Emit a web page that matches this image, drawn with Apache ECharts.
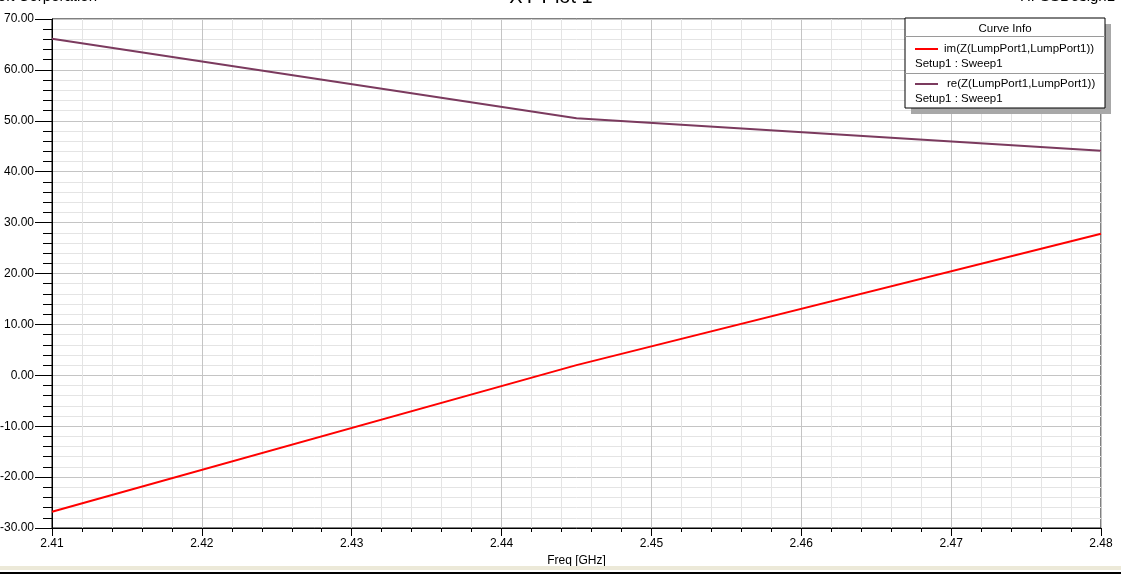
<!DOCTYPE html>
<html>
<head>
<meta charset="utf-8">
<script src="https://cdn.jsdelivr.net/npm/echarts@6/dist/echarts.min.js"></script>
<style>
html,body{margin:0;padding:0;background:#fff;}
#c{width:1121px;height:575px;}
</style>
</head>
<body>
<div id="c"></div>
<script>
const freq = [2.41, 2.445, 2.48];
const imZ = [-26.8, 2.0, 27.8];
const reZ = [66.1, 50.5, 44.1];
const seriesNames = ['im(Z(LumpPort1,LumpPort1))', 're(Z(LumpPort1,LumpPort1))'];
const sweepLabel = 'Setup1 : Sweep1';
const colors = ['#ff0000', '#7b3a5e'];

const FONT = '"Liberation Sans", Arial, sans-serif';
const chart = echarts.init(document.getElementById('c'), null, {renderer: 'canvas'});

function pairs(xs, ys){ return xs.map((x,i)=>[x, ys[i]]); }

const legendLeft = 905, legendTop = 18, legendW = 200, legendH = 90;

chart.setOption({
  animation: false,
  backgroundColor: '#ffffff',
  grid: {left: 52, top: 19, right: 20, bottom: 47, containLabel: false, outerBoundsMode: 'none',
         show: true, borderColor: '#000', borderWidth: 1, backgroundColor: 'transparent'},
  xAxis: {
    type: 'value', min: 2.41, max: 2.48, interval: 0.01,
    name: 'Freq [GHz]', nameLocation: 'middle', nameGap: 16,
    nameTextStyle: {fontFamily: FONT, fontSize: 12, color: '#000'},
    axisLine: {show: true, onZero: false, lineStyle: {color: '#000', width: 1}},
    axisTick: {show: true, length: 8, lineStyle: {color: '#000'}},
    minorTick: {show: true, splitNumber: 5, length: 4, lineStyle: {color: '#000'}},
    axisLabel: {fontFamily: FONT, fontSize: 12, color: '#000', margin: 10, formatter: v => v.toFixed(2)},
    splitLine: {show: true, lineStyle: {color: '#c4c4c4', width: 1}},
    minorSplitLine: {show: true, lineStyle: {color: '#e4e4e4', width: 1}}
  },
  yAxis: {
    type: 'value', min: -30, max: 70, interval: 10,
    axisLine: {show: true, onZero: false, lineStyle: {color: '#000', width: 1}},
    axisTick: {show: true, length: 17, lineStyle: {color: '#000'}},
    minorTick: {show: true, splitNumber: 5, length: 9, lineStyle: {color: '#000'}},
    axisLabel: {fontFamily: FONT, fontSize: 12, color: '#000', margin: 18, formatter: v => v.toFixed(2)},
    splitLine: {show: true, lineStyle: {color: '#c4c4c4', width: 1}},
    minorSplitLine: {show: true, lineStyle: {color: '#e4e4e4', width: 1}}
  },
  series: [
    {name: seriesNames[0], type: 'line', data: pairs(freq, imZ), showSymbol: false, symbol: 'none', lineStyle: {color: colors[0], width: 2}, z: 3},
    {name: seriesNames[1], type: 'line', data: pairs(freq, reZ), showSymbol: false, symbol: 'none', lineStyle: {color: colors[1], width: 2}, z: 3}
  ],
  graphic: [
    {type: 'text', x: 551, y: -13, style: {text: 'XY Plot 1', font: '20px ' + FONT, fill: '#000', align: 'center'}, z: 10},
    {type: 'text', x: 97, y: -10.5, style: {text: 'Ansoft Corporation', font: '15px ' + FONT, fill: '#000', align: 'right'}, z: 10},
    {type: 'text', x: 1115, y: -10.5, style: {text: 'HFSSDesign1', font: '15px ' + FONT, fill: '#000', align: 'right'}, z: 10},
    // legend shadow
    {type: 'rect', shape: {x: legendLeft + 6, y: legendTop + 6, width: legendW, height: legendH}, style: {fill: '#a8a8a8'}, z: 20},
    {type: 'rect', shape: {x: legendLeft, y: legendTop, width: legendW, height: legendH}, style: {fill: '#fff', stroke: '#000', lineWidth: 1}, z: 21},
    {type: 'text', x: legendLeft + legendW / 2, y: 29, style: {text: 'Curve Info', font: '11.5px ' + FONT, fill: '#000', align: 'center', verticalAlign: 'middle'}, z: 22},
    {type: 'line', shape: {x1: legendLeft, y1: 36.5, x2: legendLeft + legendW, y2: 36.5}, style: {stroke: '#9a9a9a', lineWidth: 1}, z: 22},
    {type: 'line', shape: {x1: 915, y1: 49, x2: 938, y2: 49}, style: {stroke: colors[0], lineWidth: 2}, z: 22},
    {type: 'text', x: 944, y: 49, style: {text: seriesNames[0], font: '11.5px ' + FONT, fill: '#000', verticalAlign: 'middle'}, z: 22},
    {type: 'text', x: 915, y: 64, style: {text: sweepLabel, font: '11.5px ' + FONT, fill: '#000', verticalAlign: 'middle'}, z: 22},
    {type: 'line', shape: {x1: legendLeft, y1: 73.5, x2: legendLeft + legendW, y2: 73.5}, style: {stroke: '#9a9a9a', lineWidth: 1}, z: 22},
    {type: 'line', shape: {x1: 915, y1: 84, x2: 938, y2: 84}, style: {stroke: colors[1], lineWidth: 2}, z: 22},
    {type: 'text', x: 947, y: 84, style: {text: seriesNames[1], font: '11.5px ' + FONT, fill: '#000', verticalAlign: 'middle'}, z: 22},
    {type: 'text', x: 915, y: 99, style: {text: sweepLabel, font: '11.5px ' + FONT, fill: '#000', verticalAlign: 'middle'}, z: 22},
    // bottom window edge
    {type: 'rect', shape: {x: 0, y: 566, width: 1121, height: 4}, style: {fill: '#ece9d8'}, z: 5},
    {type: 'line', shape: {x1: 0, y1: 573, x2: 1121, y2: 573}, style: {stroke: '#000', lineWidth: 2}, z: 5}
  ]
});
</script>
</body>
</html>
